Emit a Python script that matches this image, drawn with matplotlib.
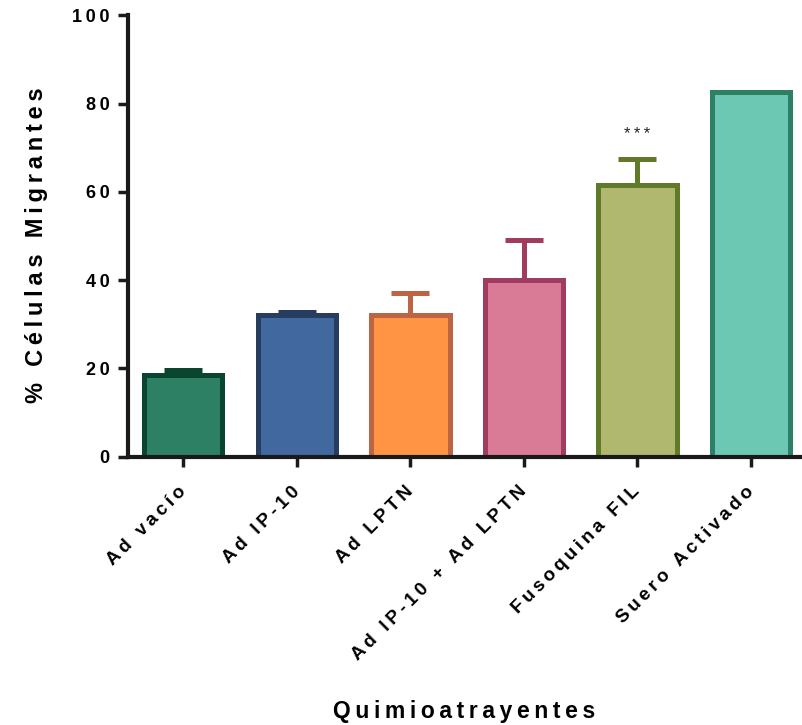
import matplotlib
matplotlib.use("Agg")
import matplotlib.pyplot as plt
import matplotlib.transforms as mtransforms
import numpy as np

categories = ["Ad vacío", "Ad IP-10", "Ad LPTN", "Ad IP-10 + Ad LPTN", "Fusoquina FIL", "Suero Activado"]
means = [18.5, 32.0, 32.0, 40.0, 61.5, 82.5]
errors = [1.2, 0.8, 5.0, 9.0, 6.0, 0.0]
fills = ["#2E8065", "#4169A0", "#FF9544", "#D97A96", "#B0B76E", "#6CC8B2"]
edges = ["#0A4530", "#263D60", "#BD6445", "#A03C60", "#607A2A", "#2E8065"]
yticks = [0, 20, 40, 60, 80, 100]


def spaced(s):
    # emulate the wide letter spacing of the original with thin spaces
    return "\u2009".join(s)


plt.rcParams['font.family'] = ['Liberation Sans', 'DejaVu Sans']
fig = plt.figure(figsize=(8.03, 7.25), dpi=100)
ax = fig.add_axes([0.159, 0.370, 0.837, 0.609])

x = np.arange(len(categories))
for i in range(len(categories)):
    if errors[i] > 0:
        ax.errorbar(x[i], means[i], yerr=[[0], [errors[i]]], fmt='none',
                    ecolor=edges[i], elinewidth=3.6, capsize=13.5, capthick=3.6, zorder=1)
    ax.bar(x[i], means[i], width=0.69, color=fills[i], edgecolor=edges[i],
           linewidth=3.6, zorder=2)

ax.text(x[4], 73, spaced("***"), ha='center', va='center', fontsize=12, color='#222222')

ax.set_xlim(-0.49, 5.43)
ax.set_ylim(0, 100)
ax.set_yticks(yticks)
ax.set_yticklabels([spaced(str(v)) for v in yticks], fontsize=13, fontweight='bold')
ax.set_xticks(x)
ax.set_xticklabels([spaced(c) for c in categories], rotation=45, ha='right',
                   rotation_mode='anchor', fontsize=13.5, fontweight='bold')
ax.tick_params(axis='both', direction='out', length=7, width=2.5, color='#1a1a1a')
ax.tick_params(axis='y', pad=6)
ax.tick_params(axis='x', pad=12)
offset = mtransforms.ScaledTranslation(-6 / 100, 0, fig.dpi_scale_trans)
for lab in ax.get_xticklabels():
    lab.set_transform(lab.get_transform() + offset)
for s in ['top', 'right']:
    ax.spines[s].set_visible(False)
for s in ['left', 'bottom']:
    ax.spines[s].set_linewidth(3)
    ax.spines[s].set_color('#1a1a1a')

ax.set_ylabel(spaced("% Células Migrantes"), fontsize=17, fontweight='bold')
ax.yaxis.set_label_coords(-0.118, 0.48)
ax.set_xlabel(spaced("Quimioatrayentes"), fontsize=16.5, fontweight='bold', va='center')
ax.xaxis.set_label_coords(0.5, -0.577)

fig.savefig("out.png", dpi=100)
